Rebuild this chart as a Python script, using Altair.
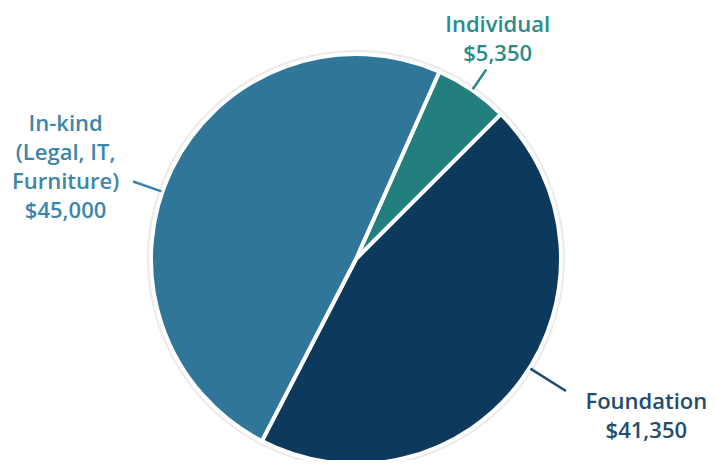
import math
import altair as alt
import pandas as pd

# ---- data ----
categories = ["Individual", "Foundation", "In-kind"]
name_lines = [["Individual"], ["Foundation"], ["In-kind", "(Legal, IT,", "Furniture)"]]
values = [5350, 41350, 45000]

# ---- styles ----
slice_colors = ["#237f7e", "#0d3a5c", "#2f7699"]
label_colors = ["#2a8c8a", "#1e4d6f", "#3c86ab"]

df = pd.DataFrame({
    "category": categories,
    "value": values,
    "idx": list(range(len(categories))),
    "label": [n + ["$" + f"{v:,}"] for n, v in zip(name_lines, values)],
})

START = math.radians(24)
theta_scale = alt.Scale(domain=[0, 1], range=[START, START + 2 * math.pi])
color_scale = alt.Scale(domain=categories, range=slice_colors)

base = (
    alt.Chart(df)
    .transform_joinaggregate(total="sum(value)")
    .transform_window(cum="sum(value)", sort=[alt.SortField("idx")], frame=[None, 0])
    .transform_calculate(
        start="(datum.cum - datum.value) / datum.total",
        end="datum.cum / datum.total",
        mid="(datum.cum - datum.value / 2) / datum.total",
    )
)

R = 205

halo = base.mark_arc(outerRadius=R + 4, color="#ebebeb").encode(
    theta=alt.Theta("start:Q", scale=theta_scale),
    theta2="end:Q",
)

pie = base.mark_arc(outerRadius=R, stroke="white", strokeWidth=4).encode(
    theta=alt.Theta("start:Q", scale=theta_scale),
    theta2="end:Q",
    color=alt.Color("category:N", scale=color_scale, legend=None),
)

# per-label layout: (leader outer radius, leader angle offset deg, label radius, dx, dy)
layout = {
    "Individual": (230, 0.0, 266, -9, -15),
    "Foundation": (248, -4.0, 320, 32, -46),
    "In-kind": (236, -6.5, 300, -20, -5),
}

layers = [halo, pie]
for cat, lc in zip(categories, label_colors):
    r_out, off, r_lab, dx, dy = layout[cat]
    sub = base.transform_filter(alt.datum.category == cat)
    leader = sub.mark_arc(
        outerRadius=r_out, innerRadius=R + 1, stroke=lc, strokeWidth=2.5,
        fillOpacity=0, thetaOffset=math.radians(off), theta2Offset=math.radians(off),
    ).encode(
        theta=alt.Theta("mid:Q", scale=theta_scale),
        theta2="mid:Q",
    )
    label = sub.mark_text(
        radius=r_lab, dx=dx, dy=dy, font="Open Sans", fontSize=22, fontWeight=600,
        lineHeight=29, align="center", baseline="middle", color=lc,
    ).encode(
        theta=alt.Theta("mid:Q", scale=theta_scale),
        text="label",
    )
    layers += [leader, label]

chart = (
    alt.layer(*layers)
    .properties(
        width=600, height=402, autosize="none",
        padding={"left": 48, "top": 50, "right": 52, "bottom": 0},
        background="white",
    )
    .configure_view(strokeWidth=0)
)

chart.save("out.html", embed_options={"renderer": "svg", "actions": False})
